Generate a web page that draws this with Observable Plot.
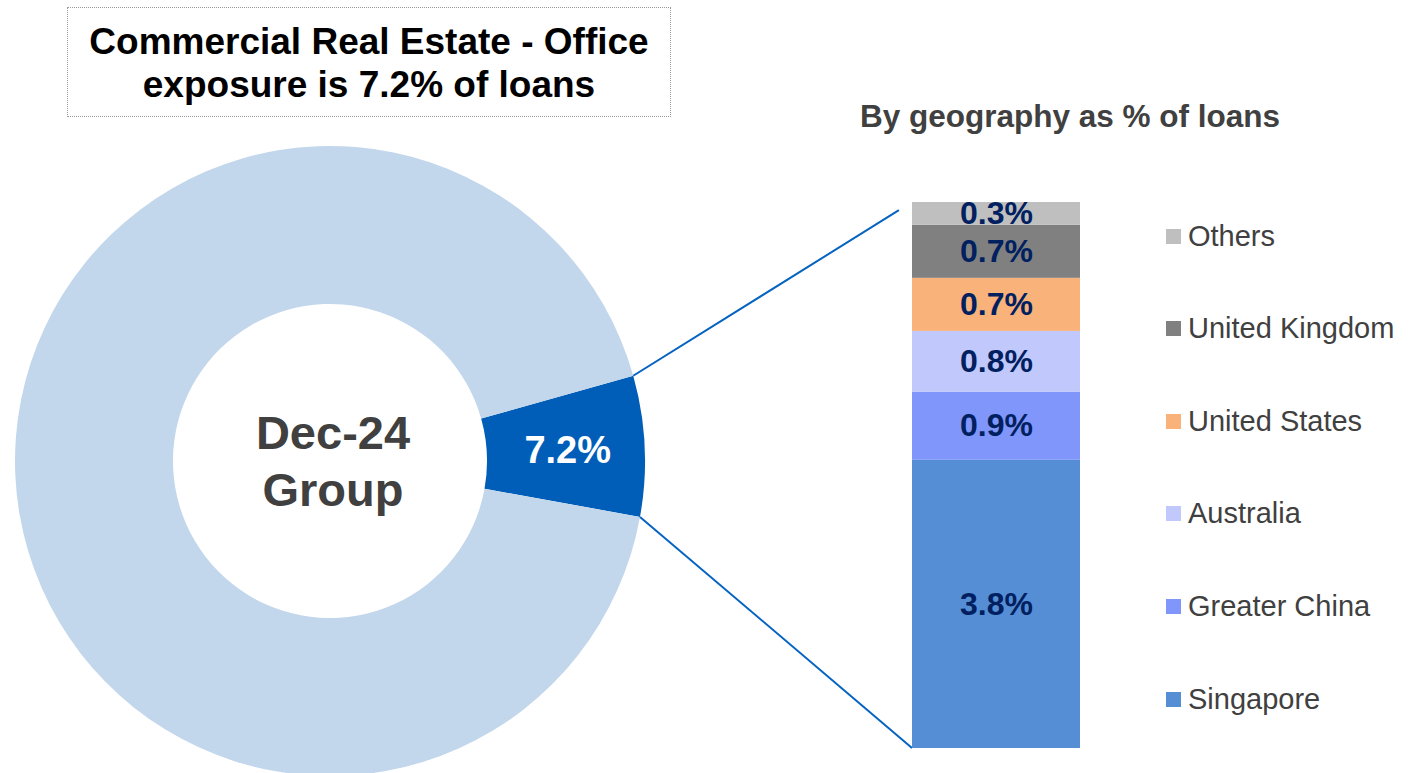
<!DOCTYPE html>
<html>
<head>
<meta charset="utf-8">
<script src="https://cdn.jsdelivr.net/npm/d3@7"></script>
<script src="https://cdn.jsdelivr.net/npm/@observablehq/plot@0.6"></script>
<style>
  body { margin: 0; background: #fff; font-family: "Liberation Sans", Arial, sans-serif; }
  #wrap { position: relative; width: 1422px; height: 773px; overflow: hidden; }
  #chart { position: absolute; left: 0; top: 0; }
  .title-box { position: absolute; left: 67px; top: 7px; width: 604px; height: 110px;
    border: 1.5px dotted #9a9a9a; box-sizing: border-box; text-align: center; font-weight: bold;
    font-size: 37px; line-height: 43px; color: #000; padding-top: 12px; }
  .subtitle { position: absolute; left: 770px; width: 600px; top: 101px; text-align: center;
    font-weight: bold; font-size: 31.5px; line-height: 31.5px; color: #404040; }
  .legend { position: absolute; left: 1166px; top: 0; }
  .legend .row { position: absolute; left: 0; display: flex; align-items: center; white-space: nowrap;
    font-size: 29px; color: #404040; height: 30px; margin-top: -15px; }
  .legend .sw { width: 15px; height: 15px; margin-right: 7px; flex: none; }
</style>
</head>
<body>
<div id="wrap">
  <div id="chart"></div>
  <div class="title-box">Commercial Real Estate - Office<br>exposure is 7.2% of loans</div>
  <div class="subtitle">By geography as % of loans</div>
  <div class="legend" id="legend"></div>
</div>
<script>
// ---- data ----
const regions = ["Singapore", "Greater China", "Australia", "United States", "United Kingdom", "Others"];
const shares = [3.8, 0.9, 0.8, 0.7, 0.7, 0.3];
const regionColors = ["#558ED5", "#8096FA", "#C0C8FC", "#F8B27A", "#808080", "#BFBFBF"];

const donutLabels = ["CRE - Office", "Other loans"];
const donutValues = [7.2, 92.8];
const donutColors = ["#005EB8", "#C3D7EC"];
const centerLabel = ["Dec-24", "Group"];

// ---- layout ----
const W = 1422, H = 773;
const cx = 330, cy = 461, rOuter = 315, rInner = 157;
const donutStartDeg = 74.3;
const barLeft = 912, barRight = 1080;
const topConnectorReach = 0.953;
const legendTop = 236, legendStep = 92.6;

const total = d3.sum(shares);
const geo = regions.map((r, i) => ({region: r, value: shares[i]}));
const donut = donutLabels.map((l, i) => ({label: l, value: donutValues[i], color: donutColors[i]}));
const pct = v => d3.format(".1f")(v) + "%";

function donutMark(index, scales) {
  const root = d3.create("svg:g");
  const a0 = donutStartDeg * Math.PI / 180;
  const arcs = d3.pie().sort(null).value(d => d.value).startAngle(a0).endAngle(a0 + 2 * Math.PI)(donut);
  const arc = d3.arc().innerRadius(rInner).outerRadius(rOuter);
  const g = root.append("g").attr("transform", `translate(${cx},${cy})`);
  g.selectAll("path").data(arcs).join("path").attr("d", arc).attr("fill", d => d.data.color);
  const s = arcs[0];
  const [lx, ly] = arc.centroid(s);
  g.append("text").attr("x", lx + 2).attr("y", ly).attr("dy", "0.36em").attr("text-anchor", "middle")
    .attr("fill", "#fff").attr("font-weight", "bold").attr("font-size", 38).text(pct(s.data.value));
  g.append("text").attr("text-anchor", "middle").attr("fill", "#404040").attr("font-weight", "bold")
    .attr("font-size", 47)
    .selectAll("tspan").data(centerLabel).join("tspan")
    .attr("x", 3).attr("y", (d, i) => -12 + i * 57).text(d => d);
  // connectors
  const pt = a => [cx + rOuter * Math.sin(a), cy - rOuter * Math.cos(a)];
  const [tx, ty] = pt(s.startAngle);
  const [bx, by] = pt(s.endAngle);
  const xb = scales.x(barLeft), yTop = scales.y(total), yBot = scales.y(0);
  const ex = tx + (xb - tx) * topConnectorReach, ey = ty + (yTop - ty) * topConnectorReach;
  root.append("line").attr("x1", tx).attr("y1", ty).attr("x2", ex).attr("y2", ey)
    .attr("stroke", "#0563C1").attr("stroke-width", 2);
  root.append("line").attr("x1", bx).attr("y1", by).attr("x2", xb).attr("y2", yBot)
    .attr("stroke", "#0563C1").attr("stroke-width", 2);
  return root.node();
}

const chart = Plot.plot({
  width: W,
  height: H,
  marginTop: 202,
  marginBottom: 25,
  marginLeft: 0,
  marginRight: 0,
  style: {fontFamily: "'Liberation Sans', Arial, sans-serif", background: "transparent"},
  x: {domain: [0, W], range: [0, W], axis: null},
  y: {domain: [0, total], axis: null},
  color: {domain: regions, range: regionColors},
  marks: [
    donutMark,
    Plot.rectY(geo, Plot.stackY({x1: () => barLeft, x2: () => barRight, y: "value", fill: "region"})),
    Plot.text(geo, Plot.stackY({
      x: () => (barLeft + barRight) / 2, y: "value", text: d => pct(d.value),
      fill: "#002060", fontSize: 32, fontWeight: "bold"
    }))
  ]
});
document.getElementById("chart").appendChild(chart);

// legend (top-to-bottom mirrors stack order)
const legend = d3.select("#legend");
const legendItems = regions.map((r, i) => ({r, c: regionColors[i]})).reverse();
legendItems.forEach((d, i) => {
  const row = legend.append("div").attr("class", "row").style("top", (legendTop + i * legendStep) + "px");
  row.append("div").attr("class", "sw").style("background", d.c);
  row.append("span").text(d.r);
});
</script>
</body>
</html>
